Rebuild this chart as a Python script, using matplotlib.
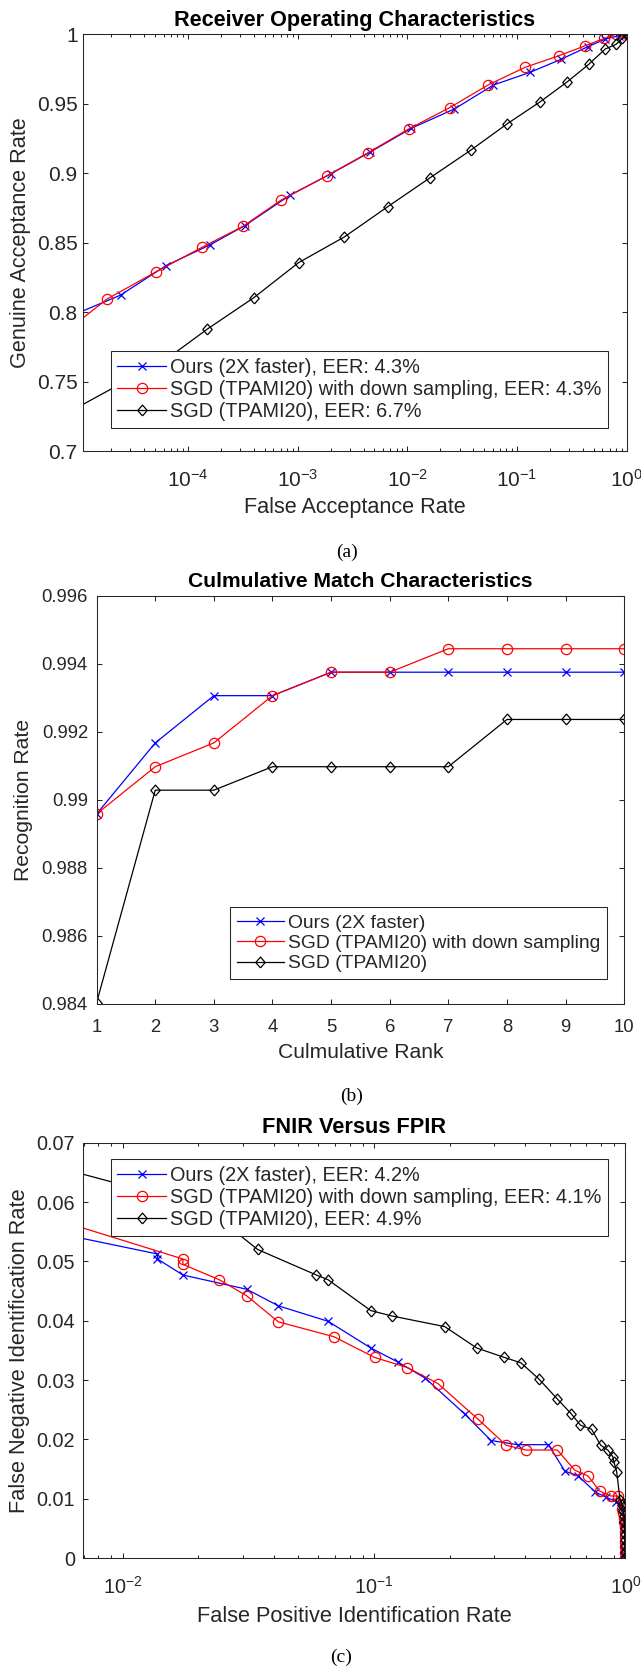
import numpy as np
import matplotlib
matplotlib.use('Agg')
import matplotlib.pyplot as plt
from matplotlib.ticker import FixedLocator, FormatStrFormatter, LogLocator, NullFormatter

W, H, DPI = 641, 1666, 100

# ---------------- data ----------------
# (a) ROC
roc_labels = ['Ours (2X faster), EER: 4.3%',
              'SGD (TPAMI20) with down sampling, EER: 4.3%',
              'SGD (TPAMI20), EER: 6.7%']
roc_ours_far = [5e-6, 2.44e-5, 6.3e-5, 1.58e-4, 3.3e-4, 8.6e-4, 2.0e-3, 4.6e-3,
                1.09e-2, 2.69e-2, 6.1e-2, 0.132, 0.252, 0.44, 0.64, 0.85, 1.0]
roc_ours_gar = [0.7896, 0.8124, 0.8335, 0.8484, 0.8623, 0.8844, 0.8995, 0.9153,
                0.9324, 0.9463, 0.9635, 0.9727, 0.982, 0.991, 0.9966, 0.999, 1.0]
roc_ds_far = [5e-6, 1.84e-5, 5.15e-5, 1.35e-4, 3.19e-4, 7.1e-4, 1.84e-3, 4.35e-3,
              1.03e-2, 2.43e-2, 5.5e-2, 0.119, 0.241, 0.414, 0.62, 0.80, 1.0]
roc_ds_gar = [0.7745, 0.8096, 0.8292, 0.8468, 0.8619, 0.8808, 0.8981, 0.9146,
              0.9319, 0.9472, 0.9637, 0.9763, 0.9846, 0.9916, 0.997, 1.0, 1.0]
roc_sgd_far = [5e-6, 2.5e-5, 6.3e-5, 1.51e-4, 3.99e-4, 1.02e-3, 2.67e-3, 6.64e-3,
               1.6e-2, 3.77e-2, 8.17e-2, 0.163, 0.286, 0.451, 0.637, 0.80, 0.91, 1.0]
roc_sgd_gar = [0.7188, 0.749, 0.766, 0.788, 0.8105, 0.8357, 0.8542, 0.876,
               0.8966, 0.9165, 0.9357, 0.9515, 0.9657, 0.9784, 0.9894, 0.9928, 0.997, 1.0]
roc_yticks = [0.7, 0.75, 0.8, 0.85, 0.9, 0.95, 1.0]

# (b) CMC
cmc_labels = ['Ours (2X faster)', 'SGD (TPAMI20) with down sampling', 'SGD (TPAMI20)']
cmc_rank = [1, 2, 3, 4, 5, 6, 7, 8, 9, 10]
cmc_ours = [0.98958, 0.99167, 0.99306, 0.99306, 0.99375, 0.99375, 0.99375, 0.99375, 0.99375, 0.99375]
cmc_ds = [0.98958, 0.99097, 0.99167, 0.99306, 0.99375, 0.99375, 0.99444, 0.99444, 0.99444, 0.99444]
cmc_sgd = [0.98403, 0.99028, 0.99028, 0.99097, 0.99097, 0.99097, 0.99097, 0.99236, 0.99236, 0.99236]
cmc_yticks = [0.984, 0.986, 0.988, 0.99, 0.992, 0.994, 0.996]

# (c) FNIR vs FPIR
det_labels = ['Ours (2X faster), EER: 4.2%',
              'SGD (TPAMI20) with down sampling, EER: 4.1%',
              'SGD (TPAMI20), EER: 4.9%']
det_ours_fpir = [0.005, 0.01374, 0.01374, 0.01734, 0.0311, 0.0416, 0.0656, 0.097, 0.1247,
                 0.160, 0.229, 0.292, 0.373, 0.494, 0.574, 0.649, 0.760, 0.834, 0.918,
                 0.96, 0.975, 0.985, 0.99, 0.993, 0.995, 0.997, 0.998, 0.999, 1.0, 1.0]
det_ours_fnir = [0.0551, 0.05124, 0.0504, 0.0477, 0.0453, 0.0425, 0.0399, 0.0354, 0.033,
                 0.0303, 0.0243, 0.0198, 0.0191, 0.0191, 0.01466, 0.01382, 0.0111, 0.0103, 0.0095,
                 0.0087, 0.0083, 0.007, 0.006, 0.005, 0.004, 0.003, 0.002, 0.001, 0.0005, 0.0]
det_ds_fpir = [0.005, 0.01734, 0.01734, 0.0242, 0.0311, 0.0416, 0.0692, 0.1005, 0.1356,
               0.1795, 0.259, 0.3355, 0.402, 0.536, 0.629, 0.711, 0.789, 0.873, 0.933,
               0.965, 0.975, 0.985, 0.99, 0.993, 0.995, 0.997, 0.998, 0.999, 1.0, 1.0]
det_ds_fnir = [0.0575, 0.0504, 0.0495, 0.0469, 0.0442, 0.0398, 0.0373, 0.0338, 0.0321,
               0.0294, 0.0234, 0.0190, 0.0182, 0.0182, 0.0148, 0.0138, 0.0113, 0.01045, 0.01045,
               0.0083, 0.0076, 0.0068, 0.006, 0.0052, 0.0044, 0.0036, 0.0027, 0.0018, 0.0009, 0.0]
det_sgd_fpir = [0.005, 0.012, 0.025, 0.0344, 0.0589, 0.0656, 0.097, 0.1175, 0.191, 0.256,
                0.330, 0.384, 0.452, 0.536, 0.609, 0.662, 0.733, 0.798, 0.851, 0.890, 0.90,
                0.923, 0.952, 0.97, 0.98, 0.987, 0.99, 0.993, 0.995, 0.997, 0.998, 0.999, 1.0]
det_sgd_fnir = [0.0663, 0.0620, 0.0567, 0.0520, 0.0477, 0.0469, 0.0417, 0.0408, 0.0390, 0.0354,
                0.0338, 0.0329, 0.0302, 0.0268, 0.0243, 0.0224, 0.0217, 0.0190, 0.0182, 0.0171, 0.0162,
                0.01455, 0.0098, 0.009, 0.008, 0.007, 0.006, 0.005, 0.004, 0.003, 0.002, 0.001, 0.0]
det_yticks = [0, 0.01, 0.02, 0.03, 0.04, 0.05, 0.06, 0.07]

# ---------------- style ----------------
plt.rcParams['font.family'] = ['Liberation Sans', 'DejaVu Sans']
plt.rcParams['mathtext.fontset'] = 'custom'
plt.rcParams['mathtext.rm'] = 'Liberation Sans'
plt.rcParams['mathtext.it'] = 'Liberation Sans:italic'
plt.rcParams['mathtext.bf'] = 'Liberation Sans:bold'
AXC = '#262626'
DIAMOND = [(0, -1), (0.87, 0), (0, 1), (-0.87, 0), (0, -1)]

fig = plt.figure(figsize=(W / DPI, H / DPI), dpi=DPI)


def make_axes(left, right, top, bottom):
    return fig.add_axes([left / W, 1 - bottom / H, (right - left) / W, (bottom - top) / H])


def style(ax, tick_fs, ypad, xpad):
    for s in ax.spines.values():
        s.set_color(AXC)
        s.set_linewidth(0.75)
    ax.tick_params(which='both', direction='in', top=True, right=True,
                   color=AXC, labelcolor=AXC, width=0.75)
    ax.tick_params(which='major', length=3.6, labelsize=tick_fs)
    ax.tick_params(which='minor', length=2.4)
    ax.tick_params(axis='y', which='both', pad=ypad)
    ax.tick_params(axis='x', which='both', pad=xpad)


def series(ax, xs, ys, lw=0.9):
    x1, x2, x3 = xs
    y1, y2, y3 = ys
    h1, = ax.plot(x1, y1, color='#0000ff', marker='x', ms=5.5, mew=0.9, lw=lw)
    h2, = ax.plot(x2, y2, color='#ff0000', marker='o', ms=7.4, mew=0.9, mfc='none', lw=lw)
    h3, = ax.plot(x3, y3, color='#000000', marker=DIAMOND, ms=7.8, mew=0.9, mfc='none', lw=lw)
    return [h1, h2, h3]


def labels(ax, title, xl, yl, fs, tpad, xly, ylx):
    ax.set_title(title, fontsize=fs, fontweight='bold', pad=tpad, color='black')
    ax.set_xlabel(xl, fontsize=fs, color=AXC)
    ax.set_ylabel(yl, fontsize=fs, color=AXC)
    ax.xaxis.set_label_coords(0.5, xly)
    ax.yaxis.set_label_coords(ylx, 0.5)
    ax.xaxis.label.set_verticalalignment('center')
    ax.yaxis.label.set_verticalalignment('center')


def legend(ax, handles, texts, left_px, top_px, fs):
    leg = ax.legend(handles, texts, loc='upper left',
                    bbox_to_anchor=(left_px / W, 1 - top_px / H),
                    bbox_transform=fig.transFigure, borderaxespad=0,
                    fontsize=fs, handlelength=2.45, handletextpad=0.2,
                    borderpad=0.35, labelspacing=0.15, fancybox=False,
                    framealpha=1, edgecolor=AXC)
    leg.get_frame().set_linewidth(0.75)
    for t in leg.get_texts():
        t.set_color(AXC)
    return leg


# ---------------- (a) ROC ----------------
axA = make_axes(83.1, 626.7, 34.3, 451.3)
hA = series(axA, (roc_ours_far, roc_ds_far, roc_sgd_far), (roc_ours_gar, roc_ds_gar, roc_sgd_gar))
axA.set_xscale('log')
axA.set_xlim(1.11e-5, 1.0)
axA.set_ylim(0.7, 1.0)
axA.xaxis.set_major_locator(LogLocator(base=10, numticks=20))
axA.xaxis.set_minor_locator(LogLocator(base=10, subs=np.arange(2, 10), numticks=50))
axA.xaxis.set_minor_formatter(NullFormatter())
axA.yaxis.set_major_locator(FixedLocator(roc_yticks))
axA.yaxis.set_major_formatter(FormatStrFormatter('%g'))
style(axA, 15, 3.9, 13)
labels(axA, 'Receiver Operating Characteristics', 'False Acceptance Rate',
       'Genuine Acceptance Rate', 15.6, 6, -0.1336, -0.1155)
legend(axA, hA, roc_labels, 110.5, 350.7, 14.3)
fig.text(347 / W, 1 - 552 / H, '(a)', family='Liberation Serif', fontsize=14,
         ha='center', va='center', color='black')

# ---------------- (b) CMC ----------------
axB = make_axes(96.6, 624.2, 595.7, 1003.7)
hB = series(axB, (cmc_rank, cmc_rank, cmc_rank), (cmc_ours, cmc_ds, cmc_sgd))
axB.set_xlim(1, 10)
axB.set_ylim(0.984, 0.996)
axB.xaxis.set_major_locator(FixedLocator(cmc_rank))
axB.yaxis.set_major_locator(FixedLocator(cmc_yticks))
axB.yaxis.set_major_formatter(FormatStrFormatter('%g'))
style(axB, 13.3, 6.2, 11)
labels(axB, 'Culmulative Match Characteristics', 'Culmulative Rank',
       'Recognition Rate', 15.2, 6, -0.1208, -0.1389)
legend(axB, hB, cmc_labels, 230, 907.3, 13.9)
fig.text(352 / W, 1 - 1096 / H, '(b)', family='Liberation Serif', fontsize=14,
         ha='center', va='center', color='black')

# ---------------- (c) FNIR vs FPIR ----------------
axC = make_axes(83.1, 625.4, 1142.7, 1558)
hC = series(axC, (det_ours_fpir, det_ds_fpir, det_sgd_fpir), (det_ours_fnir, det_ds_fnir, det_sgd_fnir))
axC.set_xscale('log')
axC.set_xlim(0.00695, 1.0)
axC.set_ylim(0, 0.07)
axC.xaxis.set_major_locator(LogLocator(base=10, numticks=20))
axC.xaxis.set_minor_locator(LogLocator(base=10, subs=np.arange(2, 10), numticks=50))
axC.xaxis.set_minor_formatter(NullFormatter())
axC.yaxis.set_major_locator(FixedLocator(det_yticks))
axC.yaxis.set_major_formatter(FormatStrFormatter('%g'))
style(axC, 14.3, 5.9, 13)
labels(axC, 'FNIR Versus FPIR', 'False Positive Identification Rate',
       'False Negative Identification Rate', 15.7, 6.8, -0.1397, -0.1182)
legend(axC, hC, det_labels, 110.5, 1159.3, 14.3)
fig.text(341 / W, 1 - 1657 / H, '(c)', family='Liberation Serif', fontsize=14,
         ha='center', va='center', color='black')

fig.savefig('out.png', dpi=DPI)
